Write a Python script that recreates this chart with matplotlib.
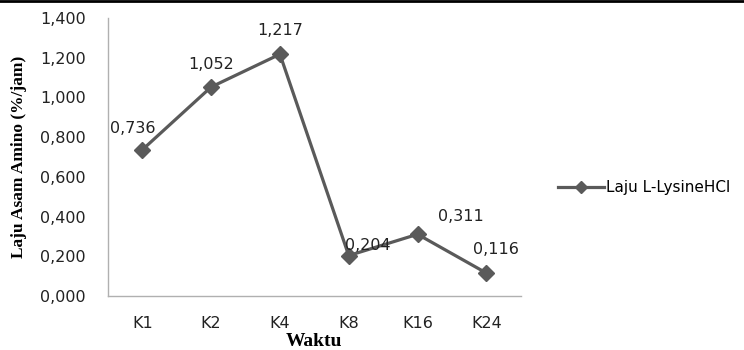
"""Laju asam amino L-LysineHCl per waktu."""

import matplotlib

matplotlib.use("Agg")

import matplotlib.pyplot as plt
from matplotlib.lines import Line2D
from matplotlib.ticker import FuncFormatter, MultipleLocator

categories = ["K1", "K2", "K4", "K8", "K16", "K24"]
laju = [0.736, 1.052, 1.217, 0.204, 0.311, 0.116]
series_name = "Laju L-LysineHCl"

# label offsets in points (custom placement as in the original chart)
label_offsets = [(-7, 15), (0, 16), (0, 17), (14, 7), (31, 13), (7, 17)]

TEXT_FONT = "DejaVu Sans"


def id_number(v, _pos=None):
    # Indonesian style: comma as decimal separator, 3 decimals
    return f"{v:.3f}".replace(".", ",")


def main() -> None:
    fig = plt.figure(figsize=(7.44, 3.5), dpi=100)
    ax = fig.add_axes([0.145, 0.154, 0.555, 0.795])
    color = "#5a5a5a"
    x = range(len(categories))
    ax.plot(x, laju, color=color, lw=2.3, marker="D", ms=8, label=series_name)

    for xi, v, (dx, dy) in zip(x, laju, label_offsets):
        ax.annotate(id_number(v), (xi, v), xytext=(dx, dy),
                    textcoords="offset points", ha="center", va="center",
                    fontsize=11.5, family=TEXT_FONT, color="#222222")

    ax.set_xlim(-0.5, len(categories) - 0.5)
    ax.set_ylim(0, 1.4)
    ax.yaxis.set_major_locator(MultipleLocator(0.2))
    ax.yaxis.set_major_formatter(FuncFormatter(id_number))
    ax.set_xticks(list(x))
    ax.set_xticklabels(categories)
    ax.tick_params(length=0, labelsize=11.5, colors="#222222", pad=14)
    ax.tick_params(axis="y", pad=16)
    for lab in ax.get_xticklabels() + ax.get_yticklabels():
        lab.set_family(TEXT_FONT)
    for side in ["top", "right"]:
        ax.spines[side].set_visible(False)
    for side in ["left", "bottom"]:
        ax.spines[side].set_color("#b0b0b0")
        ax.spines[side].set_linewidth(1)

    ax.set_ylabel("Laju Asam Amino (%/jam)", family="Liberation Serif", fontweight="bold",
                  fontsize=12.5, labelpad=9)
    ax.set_xlabel("Waktu", family="Liberation Serif", fontweight="bold", fontsize=14, labelpad=2)

    fig.legend(handles=[Line2D([], [], color=color, lw=2.3, marker="D", ms=6)],
               labels=[series_name], loc="center left", bbox_to_anchor=(0.732, 0.463),
               frameon=False, handlelength=3.0, handletextpad=0.1,
               prop={"family": TEXT_FONT, "size": 11})

    fig.add_artist(Line2D([0, 1], [0.997, 0.997], transform=fig.transFigure, color="black", lw=2))
    fig.savefig("out.png", dpi=100)
    plt.close(fig)


if __name__ == "__main__":
    main()
